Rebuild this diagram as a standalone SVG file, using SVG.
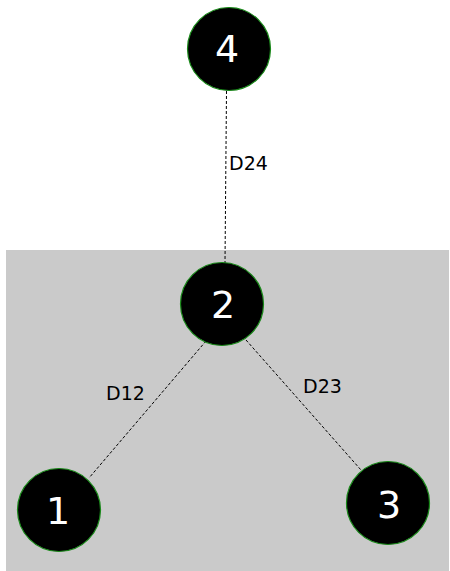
<svg xmlns="http://www.w3.org/2000/svg" width="450" height="571" viewBox="0 0 450 571">
<style>
.node circle{fill:#000;stroke:#1a8a1a;stroke-width:1.2}
.node text{fill:#fff;font-family:"DejaVu Sans",sans-serif;font-size:38px;text-anchor:middle;dominant-baseline:central}
.edge{stroke:#000;stroke-width:1;stroke-dasharray:3,2;fill:none}
.lbl{font-family:"DejaVu Sans",sans-serif;font-size:19px;fill:#000}
</style>
<rect id="cluster" x="6" y="250" width="443" height="321" fill="#cacaca"/>
<g id="connectors">
<line class="edge" x1="226.5" y1="91" x2="225" y2="263"/>
<line class="edge" x1="206" y1="341" x2="89" y2="478"/>
<line class="edge" x1="246" y1="340" x2="361" y2="470"/>
<text class="lbl" x="229" y="170">D24</text>
<text class="lbl" x="106" y="400">D12</text>
<text class="lbl" x="303" y="393">D23</text>
</g>
<g id="node4" class="node"><circle cx="229" cy="49" r="41.5"/><text x="227" y="49">4</text></g>
<g id="node2" class="node"><circle cx="222" cy="304" r="41.5"/><text x="223" y="305">2</text></g>
<g id="node1" class="node"><circle cx="59" cy="510" r="41.5"/><text x="58" y="511">1</text></g>
<g id="node3" class="node"><circle cx="388" cy="503" r="41.5"/><text x="389" y="505">3</text></g>
</svg>
